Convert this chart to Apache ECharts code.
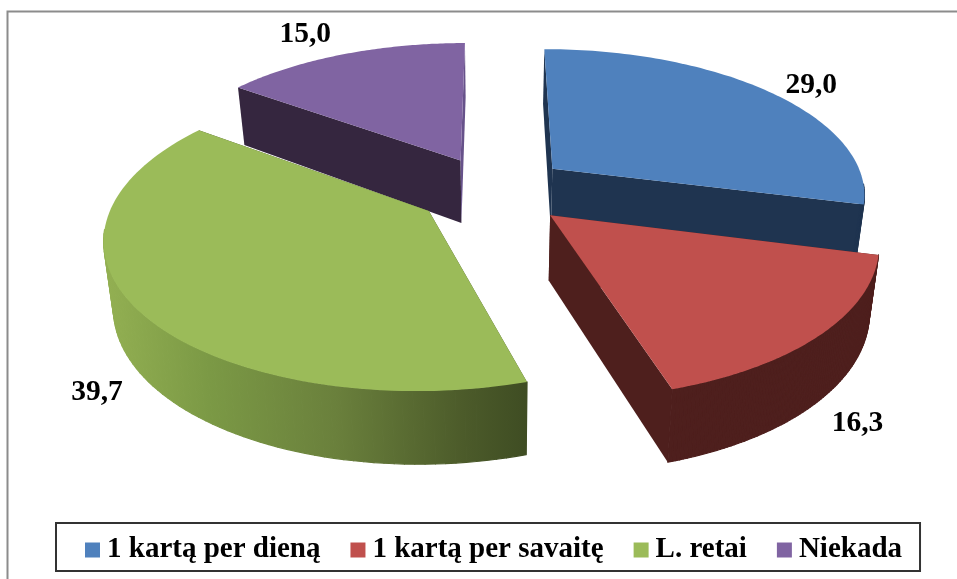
<!DOCTYPE html>
<html><head><meta charset="utf-8">
<style>html,body{margin:0;padding:0;background:#fff}#c{width:957px;height:579px}</style>
<script src="https://cdn.jsdelivr.net/npm/echarts@6/dist/echarts.min.js"></script>
</head><body><div id="c"></div>
<script>
const categories = ['1 kartą per dieną', '1 kartą per savaitę', 'L. retai', 'Niekada'];
const values = [29.0, 16.3, 39.7, 15.0];
const labels = ['29,0', '16,3', '39,7', '15,0'];
const topColors = ['#4f81bd', '#c0504d', '#9bbb59', '#8064a2'];
const sideColors = ['#1f3450', '#4e1f1d', '#3f4d23', '#35263f'];
const endCutColors = ['#1f3450', '#4e1f1d', '#3f4d23', '#67528a'];
const labelNudge = [[43, -6], [37, 89], [-36, 84], [-38, -20]];
const explode = [0.245, 0.245, 0.245, 0.235];
const radius = [1, 1, 0.993, 1];
const drawOrder = [3, 0, 2, 1];

// perspective camera of the pie
const CX = 493, CY = 190, A = 314, B = 145, K = 0.16;
const total = values.reduce((a, b) => a + b, 0);
const starts = [];
values.reduce((acc, v, i) => { starts[i] = acc; return acc + v; }, 0);

function depthAt(wz) { return 64 - 8 * wz; }
function project(i, theta, r, low) {
  const mid = (starts[i] + values[i] / 2) / total * 2 * Math.PI;
  const wx = explode[i] * Math.sin(mid) + r * Math.sin(theta);
  const wz = explode[i] * Math.cos(mid) + r * Math.cos(theta);
  const d = 1 + K * wz;
  let x = CX + A * wx / d, y = CY - B * wz / d;
  if (low) { x = CX + (x - CX) * 0.975; y += depthAt(wz); }
  return [x, y];
}
function renderSlice(i) {
  return function (params, api) {
    const v = api.value(0);
    const a0 = starts[i] / total * 2 * Math.PI;
    const a1 = a0 + v / total * 2 * Math.PI;
    const n = 90, top = [], low = [], ang = [];
    for (let s = 0; s <= n; s++) {
      const t = a0 + (a1 - a0) * s / n;
      ang.push(t);
      top.push(project(i, t, radius[i], false));
      low.push(project(i, t, radius[i], true));
    }
    const apT = project(i, 0, 0, false), apL = project(i, 0, 0, true);
    const wallFill = i === 2 ? new echarts.graphic.LinearGradient(104, 0, 526, 0, [
      { offset: 0, color: '#93b052' }, { offset: 0.25, color: '#7b9945' },
      { offset: 0.55, color: '#6a803c' }, { offset: 0.85, color: '#4c5b2a' },
      { offset: 1, color: '#3f4d23' }], true) : sideColors[i];
    const poly = (points, fill) => ({ type: 'polygon', shape: { points }, style: { fill }, silent: true });
    const wall = [];
    for (let s = 0; s < n; s++) {
      if (Math.cos(ang[s]) > -0.12 && Math.cos(ang[s + 1]) > -0.12) continue; // back of the rim is hidden
      wall.push({ type: 'polygon', silent: true, shape: { points: [top[s], top[s + 1], low[s + 1], low[s]] },
        style: { fill: wallFill, stroke: wallFill, lineWidth: 1.2, lineJoin: 'round' } });
    }
    const mid = (a0 + a1) / 2, rim = project(i, mid, 1, false);
    return { type: 'group', children: [
      poly([apT, top[0], low[0], apL], sideColors[i]),
      poly([apT, top[n], low[n], apL], endCutColors[i])
    ].concat(wall, [
      poly([apT].concat(top), topColors[i]),
      { type: 'text', silent: true, x: rim[0] + labelNudge[i][0], y: rim[1] + labelNudge[i][1],
        style: { text: labels[i], fill: '#000', font: 'bold 29.5px "Liberation Serif"', align: 'center', verticalAlign: 'middle' } }
    ]) };
  };
}

const chart = echarts.init(document.getElementById('c'), null, { renderer: 'canvas' });
chart.setOption({
  animation: false,
  backgroundColor: '#fff',
  graphic: [{ type: 'rect', z: -1, shape: { x: 7.5, y: 11.5, width: 1000, height: 600 },
    style: { fill: '#fff', stroke: '#8c8c8c', lineWidth: 2 }, silent: true }],
  legend: {
    data: categories, left: 56, top: 523, orient: 'horizontal',
    icon: 'rect', itemWidth: 15, itemHeight: 15, itemGap: 30, padding: [12.5, 18, 6.5, 29],
    backgroundColor: '#fff', borderColor: '#333', borderWidth: 2,
    selectedMode: false,
    textStyle: { fontFamily: 'Liberation Serif', fontWeight: 'bold', fontSize: 29, color: '#000', padding: [0, 0, 0, 2] }
  },
  series: drawOrder.map(i => ({
    type: 'custom', name: categories[i], coordinateSystem: 'none', silent: true,
    itemStyle: { color: topColors[i] },
    renderItem: renderSlice(i),
    data: [[values[i]]]
  }))
});
</script></body></html>
